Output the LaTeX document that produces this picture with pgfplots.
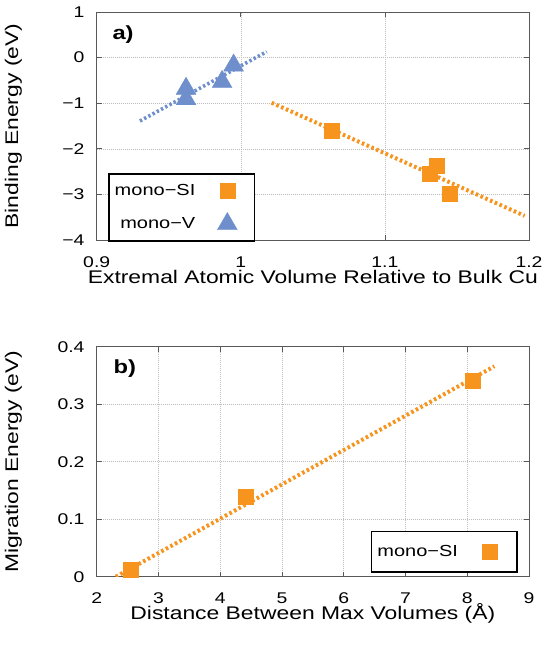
\documentclass[border=0pt]{standalone}
\usepackage{fontspec}
\setmainfont{Liberation Sans}[FakeStretch=1.25]
\usepackage{pgfplots}
\pgfplotsset{compat=1.18}
\definecolor{cOr}{HTML}{F7941D}
\definecolor{cBl}{HTML}{6E8FCB}
\pgfplotsset{
  myax/.style={
    scale only axis,
    width=432.3pt,
    /pgf/number format/assume math mode=true,
    axis line style={draw=black!65, line width=1pt},
    tick align=inside,
    major tick length=5pt,
    tick style={black!65, line width=0.8pt},
    grid=major,
    major grid style={black!25, line width=0.5pt, dash pattern=on 1pt off 1pt},
    tick label style={font=\fontsize{15.5}{18}\selectfont},
    label style={font=\fontsize{18.3}{22}\selectfont, inner sep=0pt},
    xticklabel style={anchor=base, inner sep=0pt, yshift=-27pt},
    yticklabel style={anchor=east, inner sep=0pt, xshift=-12pt},
    legend style={draw=black, line width=1.6pt, fill=white,
      font=\fontsize{16}{19}\selectfont, inner xsep=4pt, inner ysep=9pt,
      row sep=13pt, column sep=6pt},
    legend cell align=right,
    legend plot pos=right,
  },
  limg/.style={legend image code/.code={%
      \path[draw=none, fill=none] (0pt,0pt) -- (47pt,0pt);
      \draw[##1, only marks] plot coordinates {(24pt,0pt)};}},
}
\begin{document}
\begin{tikzpicture}
\useasboundingbox (-96.7pt,-645pt) rectangle (453.3pt,0pt);
% ---------- panel a ----------
\begin{axis}[myax,
  at={(0pt,-240pt)}, anchor=south west, height=228pt,
  xmin=0.9, xmax=1.2, ymin=-4, ymax=1,
  xtick={0.9,1.0,1.1,1.2}, xticklabels={0.9,1,1.1,1.2},
  ytick={-4,-3,-2,-1,0,1}, yticklabels={−4,−3,−2,−1,0,1},
  xlabel={Extremal Atomic Volume Relative to Bulk Cu},
  ylabel={Binding Energy (eV)},
  xlabel style={at={(axis description cs:0.5,-0.1886)}, anchor=base},
  ylabel style={at={(axis description cs:-0.182,0.5)}, anchor=base},
  legend style={at={(0.026,0.294)}, anchor=north west},
]
\addplot[cOr, line width=4pt, dash pattern=on 2.6pt off 2.6pt, forget plot]
  coordinates {(1.0214,-0.99) (1.197,-3.47)};
\addplot[cBl, line width=3.6pt, dash pattern=on 2.4pt off 2.4pt, forget plot]
  coordinates {(0.930,-1.39) (1.018,0.13)};
\addplot[only marks, limg, mark=square*, mark size=7.5pt, line width=0.3pt,
  color=cOr, mark options={fill=cOr, draw=cOr}]
  coordinates {(1.063,-1.60) (1.131,-2.55) (1.136,-2.38) (1.145,-2.98)};
\addlegendentry{mono−SI}
\addplot[only marks, limg, mark=triangle*, mark size=11.5pt, line width=0.3pt,
  color=cBl, mark options={fill=cBl, draw=cBl}]
  coordinates {(0.962,-0.68) (0.962,-0.91) (0.987,-0.53) (0.995,-0.17)};
\addlegendentry{mono−V}
\node[font=\fontsize{19}{22}\selectfont\bfseries] at (rel axis cs:0.061,0.90) {a)};
\end{axis}
% ---------- panel b ----------
\begin{axis}[myax,
  at={(0pt,-576.7pt)}, anchor=south west, height=230pt,
  xmin=2, xmax=9, ymin=0, ymax=0.4,
  xtick={2,3,4,5,6,7,8,9},
  ytick={0,0.1,0.2,0.3,0.4}, yticklabels={0,0.1,0.2,0.3,0.4},
  xlabel={Distance Between Max Volumes (Å)},
  ylabel={Migration Energy (eV)},
  xlabel style={at={(axis description cs:0.5,-0.1870)}, anchor=base},
  ylabel style={at={(axis description cs:-0.182,0.5)}, anchor=base},
  legend style={at={(0.974,0.2)}, anchor=north east, inner ysep=12pt},
]
\addplot[cOr, line width=4pt, dash pattern=on 2.6pt off 2.6pt, forget plot]
  coordinates {(2.31,0.0) (8.44,0.366)};
\addplot[only marks, limg, mark=square*, mark size=7.5pt, line width=0.3pt,
  color=cOr, mark options={fill=cOr, draw=cOr}]
  coordinates {(2.555,0.012) (4.41,0.14) (8.08,0.341)};
\addlegendentry{mono−SI}
\node[font=\fontsize{19}{22}\selectfont\bfseries] at (rel axis cs:0.065,0.903) {b)};
\end{axis}
\end{tikzpicture}
\end{document}
